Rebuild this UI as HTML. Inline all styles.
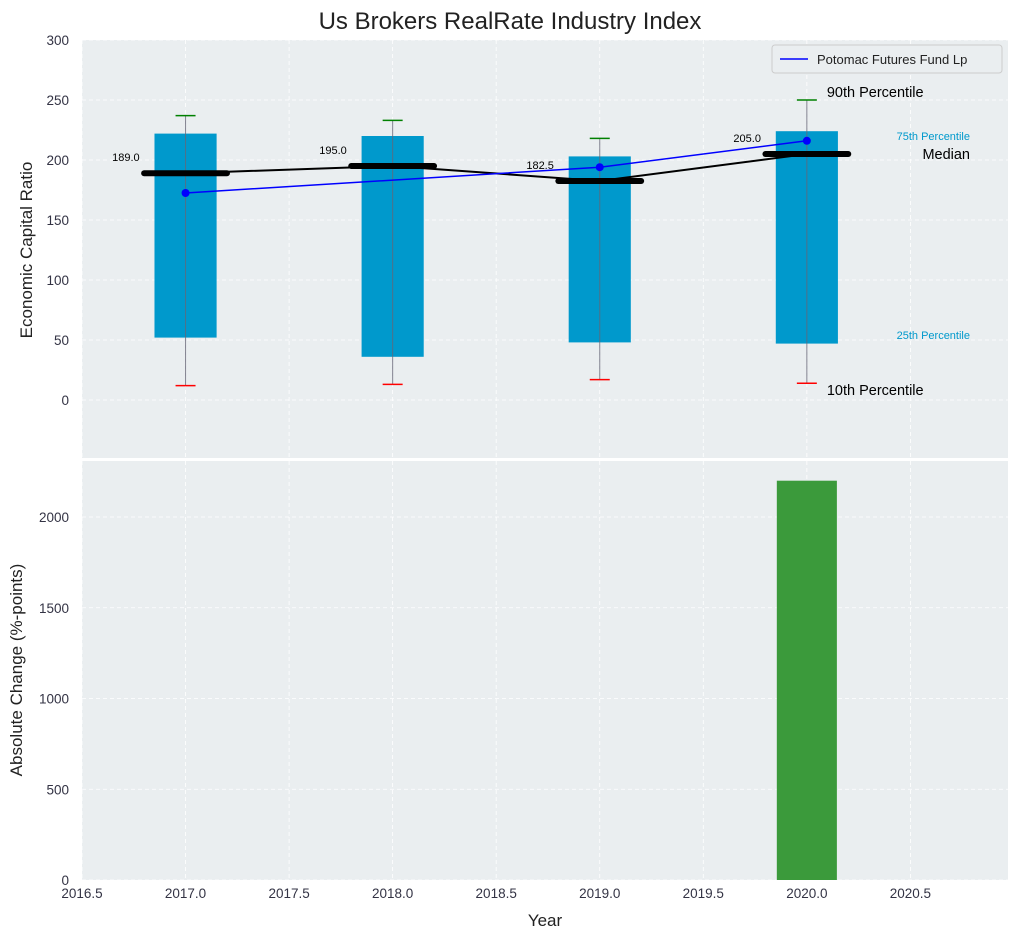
<!DOCTYPE html>
<html><head><meta charset="utf-8"><style>
body{margin:0;background:#fff;font-family:"Liberation Sans",sans-serif}
svg text{font-family:"Liberation Sans",sans-serif}
</style></head><body>
<svg id="c" width="1020" height="940" xmlns="http://www.w3.org/2000/svg"></svg>
<script>
const years=[2017,2018,2019,2020];
const p10=[12,13,17,14];
const p25=[52,36,48,47];
const medians=[189,195,182.5,205];
const p75=[222,220,203,224];
const p90=[237,233,218,250];
const fundYears=[2017,2019,2020];
const fundVals=[172.5,194,216];
const changeYears=[2020];
const changeVals=[2200];
const xTicks=[2016.5,2017,2017.5,2018,2018.5,2019,2019.5,2020,2020.5];
const yTopTicks=[0,50,100,150,200,250,300];
const yBotTicks=[0,500,1000,1500,2000];

const NS="http://www.w3.org/2000/svg",svg=document.getElementById('c');
function el(t,a,txt){const e=document.createElementNS(NS,t);for(const k in a)e.setAttribute(k,a[k]);if(txt!==undefined)e.textContent=txt;svg.appendChild(e);return e;}
const L=82,R=1008;
const x=v=>L+(v-2016.5)*207.1;
const yT=v=>400-v*1.2;
const yB=v=>880-v*0.1815;
const TT=40,TB=458,BT=461,BB=880;

let e=el('rect',{x:L,y:TT,width:R-L,height:TB-TT,fill:'#eaeef0'});

e=el('rect',{x:L,y:BT,width:R-L,height:BB-BT,fill:'#eaeef0'});


xTicks.forEach(t=>{
  el('line',{x1:x(t),x2:x(t),y1:TT,y2:TB,stroke:'#fff','stroke-dasharray':'4,3','stroke-width':0.8});
  el('line',{x1:x(t),x2:x(t),y1:BT,y2:BB,stroke:'#fff','stroke-dasharray':'4,3','stroke-width':0.8});
  e=el('text',{x:x(t),y:BB+18,'text-anchor':'middle','font-size':13.5,fill:'#334'},t.toFixed(1));
  
});
yTopTicks.forEach(t=>{
  el('line',{x1:L,x2:R,y1:yT(t),y2:yT(t),stroke:'#fff','stroke-dasharray':'4,3','stroke-width':0.8});
  e=el('text',{x:L-13,y:yT(t)+5,'text-anchor':'end','font-size':13.5,fill:'#334'},t);
  
});
yBotTicks.forEach(t=>{
  el('line',{x1:L,x2:R,y1:yB(t),y2:yB(t),stroke:'#fff','stroke-dasharray':'4,3','stroke-width':0.8});
  e=el('text',{x:L-13,y:yB(t)+5,'text-anchor':'end','font-size':13.5,fill:'#334'},t);
  
});

years.forEach((yr,i)=>{
  const cx=x(yr),hw=0.15*207.1;
  e=el('rect',{x:cx-hw,y:yT(p75[i]),width:2*hw,height:yT(p25[i])-yT(p75[i]),fill:'#0099cc'});
  
  el('line',{x1:cx,x2:cx,y1:yT(p90[i]),y2:yT(p10[i]),stroke:'#667','stroke-width':1,opacity:0.8});
  e=el('line',{x1:cx-10,x2:cx+10,y1:yT(p90[i]),y2:yT(p90[i]),stroke:'green','stroke-width':1.5});
  
  e=el('line',{x1:cx-10,x2:cx+10,y1:yT(p10[i]),y2:yT(p10[i]),stroke:'red','stroke-width':1.5});
  
});
let pts=years.map((yr,i)=>x(yr)+','+yT(medians[i])).join(' ');
e=el('polyline',{points:pts,fill:'none',stroke:'#000','stroke-width':2});

years.forEach((yr,i)=>{
  e=el('line',{x1:x(yr)-0.2*207.1,x2:x(yr)+0.2*207.1,y1:yT(medians[i]),y2:yT(medians[i]),stroke:'#000','stroke-width':6,'stroke-linecap':'round'});
  
  e=el('text',{x:x(yr)-0.2*207.1-32,y:yT(medians[i])-12,'font-size':11,fill:'#000'},medians[i].toFixed(1));
  
});
pts=fundYears.map((yr,i)=>x(yr)+','+yT(fundVals[i])).join(' ');
e=el('polyline',{points:pts,fill:'none',stroke:'blue','stroke-width':1.5});

fundYears.forEach((yr,i)=>{
  e=el('circle',{cx:x(yr),cy:yT(fundVals[i]),r:4,fill:'blue'});
  
});
const lx=x(years[3])+20;
el('text',{x:lx,y:97,'font-size':14.5,fill:'#000'},'90th Percentile');
el('text',{x:lx,y:395,'font-size':14.5,fill:'#000'},'10th Percentile');
el('text',{x:970,y:140,'font-size':11,fill:'#0099cc','text-anchor':'end'},'75th Percentile');
el('text',{x:970,y:339,'font-size':11,fill:'#0099cc','text-anchor':'end'},'25th Percentile');
el('text',{x:970,y:159,'font-size':14.5,fill:'#000','text-anchor':'end'},'Median');

changeYears.forEach((yr,i)=>{
  e=el('rect',{x:x(yr)-0.145*207.1,y:yB(changeVals[i]),width:0.29*207.1,height:yB(0)-yB(changeVals[i]),fill:'#3b9a3b'});
  
});

e=el('rect',{x:772,y:45,width:230,height:28,fill:'#eaeef0',stroke:'#ccc',rx:3});

el('line',{x1:780,x2:808,y1:59,y2:59,stroke:'blue','stroke-width':1.5});
el('text',{x:817,y:64,'font-size':13,fill:'#222'},'Potomac Futures Fund Lp');

e=el('text',{x:510,y:29,'text-anchor':'middle','font-size':24,fill:'#222'},'Us Brokers RealRate Industry Index');

e=el('text',{x:545,y:926,'text-anchor':'middle','font-size':17,fill:'#222'},'Year');

e=el('text',{x:32,y:250,'text-anchor':'middle','font-size':17,fill:'#222',transform:'rotate(-90 32 250)'},'Economic Capital Ratio');

e=el('text',{x:22,y:670,'text-anchor':'middle','font-size':17,fill:'#222',transform:'rotate(-90 22 670)'},'Absolute Change (%-points)');

</script></body></html>
